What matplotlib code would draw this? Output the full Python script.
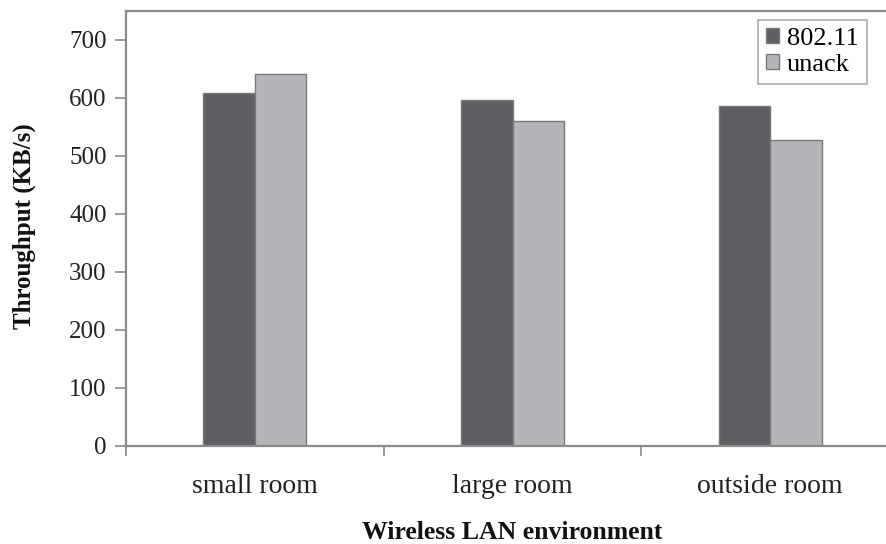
import matplotlib.pyplot as plt
import numpy as np

# data
categories = ["small room", "large room", "outside room"]
series_names = ["802.11", "unack"]
thr_80211 = [608, 597, 586]
thr_unack = [641, 560, 528]
y_ticks = [0, 100, 200, 300, 400, 500, 600, 700]

COLORS = ["#605e62", "#b6b4b8"]
EDGE = "#7a787c"
AXIS = "#8a8a8a"

plt.rcParams["font.family"] = ["Liberation Serif", "DejaVu Serif"]

fig = plt.figure(figsize=(8.86, 5.44), dpi=100)
W, H = 886, 544
left, right, top, bottom = 126, 899, 11, 446
ax = fig.add_axes([left / W, 1 - bottom / H, (right - left) / W, (bottom - top) / H])

x = np.arange(len(categories))
width = 0.2
for i, (vals, name) in enumerate(zip([thr_80211, thr_unack], series_names)):
    ax.bar(x + (i - 0.5) * width, vals, width, color=COLORS[i],
           edgecolor=EDGE, linewidth=1.0, label=name, zorder=2)

ax.set_xlim(-0.5, len(categories) - 0.5)
ax.set_ylim(0, 750)
ax.set_yticks(y_ticks)
ax.tick_params(axis="y", labelsize=18, length=8, width=1.2, color=AXIS,
               pad=6, labelcolor="#222222")

# category labels between boundary ticks (Excel style)
ax.set_xticks(np.arange(-0.5, len(categories), 1.0))
ax.set_xticklabels([])
ax.set_xticks(x, minor=True)
ax.set_xticklabels(categories, minor=True)
ax.tick_params(axis="x", which="major", length=7, width=1.2, color=AXIS)
ax.tick_params(axis="x", which="minor", length=0, labelsize=20, pad=20,
               labelcolor="#222222")

for side in ["left", "bottom", "top", "right"]:
    ax.spines[side].set_color(AXIS)
    ax.spines[side].set_linewidth(1.6)

ax.set_ylabel("Throughput (KB/s)", fontsize=18, fontweight="bold", color="#111111")
ax.yaxis.set_label_coords(-(left - 24) / (right - left), ((bottom - 226) / (bottom - top)))
ax.yaxis.label.set_va("center")
ax.set_xlabel("Wireless LAN environment", fontsize=18.5, fontweight="bold",
              color="#111111")
ax.xaxis.set_label_coords((512 - left) / (right - left), -(539 - bottom) / (bottom - top))
ax.xaxis.label.set_va("baseline")

leg = ax.legend(loc="upper left", bbox_to_anchor=((758 - left) / (right - left), 1 - (20 - top) / (bottom - top)),
                fontsize=19, frameon=True, fancybox=False, handlelength=0.5,
                handleheight=0.5, handletextpad=0.3, borderpad=0.3,
                labelspacing=0.15, borderaxespad=0)
leg.get_frame().set_edgecolor("#999999")
leg.get_frame().set_linewidth(1.2)

fig.savefig("out.png", dpi=100)
